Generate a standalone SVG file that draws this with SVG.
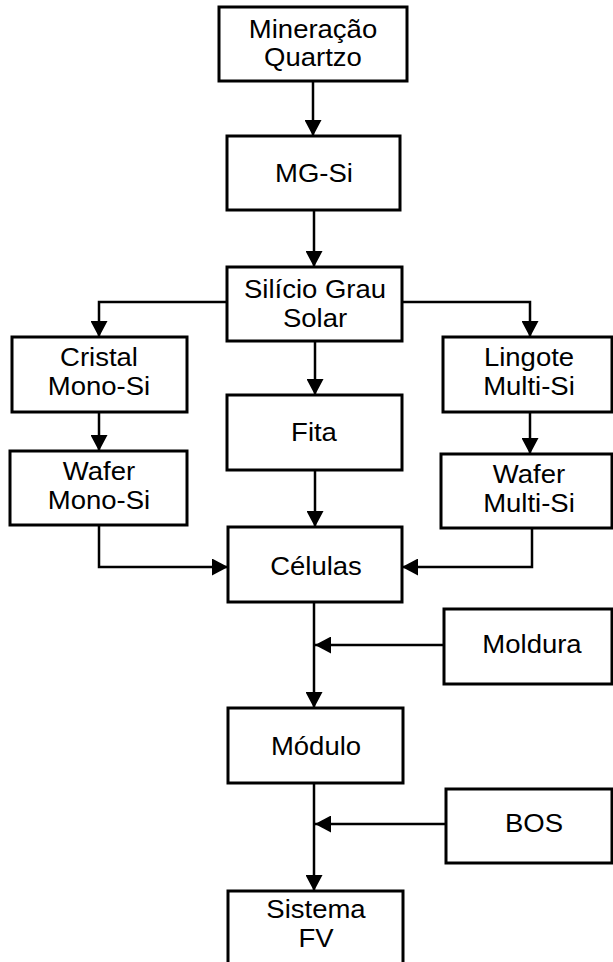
<svg xmlns="http://www.w3.org/2000/svg" width="613" height="962" viewBox="0 0 613 962">
<style>
.box{fill:#fff;stroke:#000;stroke-width:3}
.lbl{font-family:"Liberation Sans",Arial,sans-serif;font-size:25px;fill:#000;text-anchor:middle}
.con{fill:none;stroke:#000;stroke-width:2.5}
</style>
<defs>
<marker id="ah" markerUnits="userSpaceOnUse" markerWidth="17" markerHeight="17" viewBox="0 0 17 17" refX="16" refY="8.5" orient="auto">
<path d="M0,0 L16,8.5 L0,17 z" fill="#000"/>
</marker>
</defs>
<rect x="0" y="0" width="613" height="962" fill="#fff"/>
<g id="connectors">
<path class="con" marker-end="url(#ah)" d="M313,81 V136"/>
<path class="con" marker-end="url(#ah)" d="M314,210 V267"/>
<path class="con" marker-end="url(#ah)" d="M227,302 H99 V337"/>
<path class="con" marker-end="url(#ah)" d="M402,302 H530 V337"/>
<path class="con" marker-end="url(#ah)" d="M315,341 V395"/>
<path class="con" marker-end="url(#ah)" d="M99,412 V451"/>
<path class="con" marker-end="url(#ah)" d="M530,412 V454"/>
<path class="con" marker-end="url(#ah)" d="M99,525 V567 H228"/>
<path class="con" marker-end="url(#ah)" d="M532,528 V567 H402"/>
<path class="con" marker-end="url(#ah)" d="M315,470 V527"/>
<path class="con" marker-end="url(#ah)" d="M314,602 V708"/>
<path class="con" marker-end="url(#ah)" d="M444,645 H315"/>
<path class="con" marker-end="url(#ah)" d="M314,783 V891"/>
<path class="con" marker-end="url(#ah)" d="M446,824 H315"/>
</g>
<g id="mineracao">
<rect class="box" x="219" y="7" width="188" height="74"/>
<text class="lbl" transform="translate(313,38) scale(1.1,1)">Mineração</text>
<text class="lbl" transform="translate(313,66) scale(1.1,1)">Quartzo</text>
</g>
<g id="mgsi">
<rect class="box" x="227" y="136" width="173" height="74"/>
<text class="lbl" transform="translate(314,182) scale(1.1,1)">MG-Si</text>
</g>
<g id="silicio">
<rect class="box" x="227" y="267" width="175" height="74"/>
<text class="lbl" transform="translate(315,298) scale(1.1,1)">Silício Grau</text>
<text class="lbl" transform="translate(315,327) scale(1.1,1)">Solar</text>
</g>
<g id="cristal">
<rect class="box" x="12" y="337" width="175" height="75"/>
<text class="lbl" transform="translate(99,366) scale(1.1,1)">Cristal</text>
<text class="lbl" transform="translate(99,395) scale(1.1,1)">Mono-Si</text>
</g>
<g id="fita">
<rect class="box" x="227" y="395" width="175" height="75"/>
<text class="lbl" transform="translate(314,441) scale(1.1,1)">Fita</text>
</g>
<g id="lingote">
<rect class="box" x="443" y="337" width="169" height="75"/>
<text class="lbl" transform="translate(529,366) scale(1.1,1)">Lingote</text>
<text class="lbl" transform="translate(529,395) scale(1.1,1)">Multi-Si</text>
</g>
<g id="wafermono">
<rect class="box" x="10" y="451" width="177" height="74"/>
<text class="lbl" transform="translate(99,480) scale(1.1,1)">Wafer</text>
<text class="lbl" transform="translate(99,509) scale(1.1,1)">Mono-Si</text>
</g>
<g id="wafermulti">
<rect class="box" x="441" y="454" width="171" height="74"/>
<text class="lbl" transform="translate(529,483) scale(1.1,1)">Wafer</text>
<text class="lbl" transform="translate(529,512) scale(1.1,1)">Multi-Si</text>
</g>
<g id="celulas">
<rect class="box" x="228" y="527" width="174" height="75"/>
<text class="lbl" transform="translate(316,575) scale(1.1,1)">Células</text>
</g>
<g id="moldura">
<rect class="box" x="444" y="609" width="168" height="75"/>
<text class="lbl" transform="translate(532,653) scale(1.1,1)">Moldura</text>
</g>
<g id="modulo">
<rect class="box" x="228" y="708" width="175" height="75"/>
<text class="lbl" transform="translate(316,755) scale(1.1,1)">Módulo</text>
</g>
<g id="bos">
<rect class="box" x="446" y="789" width="166" height="74"/>
<text class="lbl" transform="translate(534,832) scale(1.1,1)">BOS</text>
</g>
<g id="sistema">
<rect class="box" x="228" y="891" width="175" height="80"/>
<text class="lbl" transform="translate(316,918) scale(1.1,1)">Sistema</text>
<text class="lbl" transform="translate(316,947) scale(1.1,1)">FV</text>
</g>
</svg>
